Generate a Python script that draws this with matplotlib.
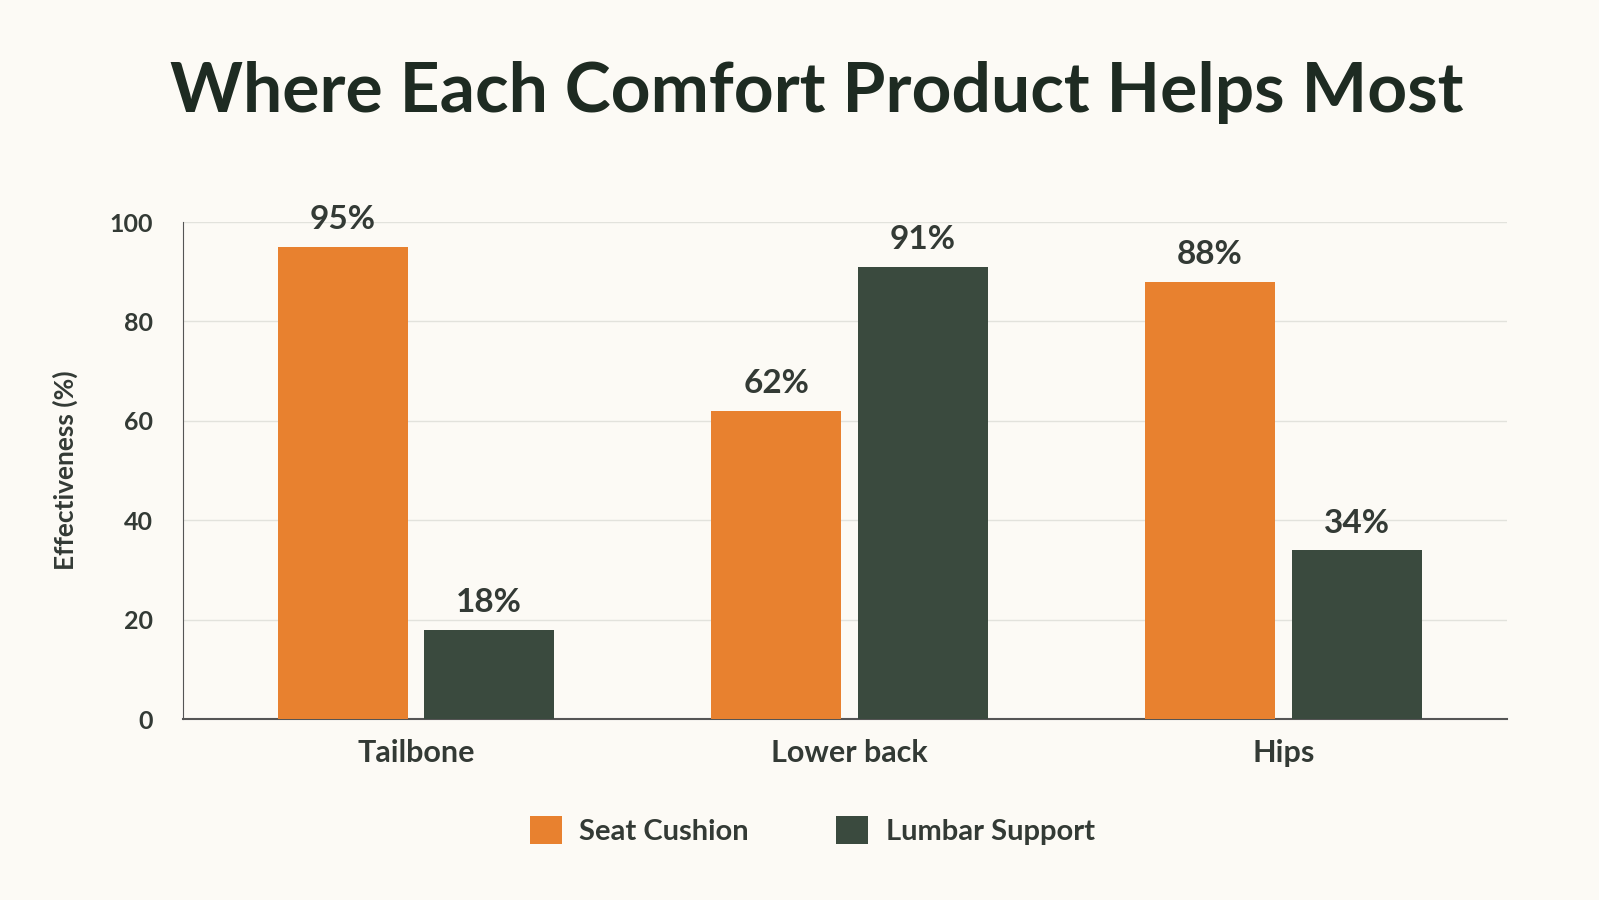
import matplotlib.pyplot as plt
import numpy as np

plt.rcParams['font.family'] = ['Lato', 'DejaVu Sans']

categories = ['Tailbone', 'Lower back', 'Hips']
seat_cushion = [95, 62, 88]
lumbar_support = [18, 91, 34]
series_names = ['Seat Cushion', 'Lumbar Support']

bg = '#FCFAF5'
orange = '#E8812F'
dark = '#3A4A3E'
text_col = '#333A35'

fig = plt.figure(figsize=(15.99, 9), dpi=100, facecolor=bg)
ax = fig.add_axes([0.1145, 0.201, 0.828, 0.5523], facecolor=bg)

x = np.arange(len(categories))
w = 0.3
off = 0.169
b1 = ax.bar(x - off, seat_cushion, w, color=orange, label=series_names[0], zorder=3)
b2 = ax.bar(x + off, lumbar_support, w, color=dark, label=series_names[1], zorder=3)

for bars, vals in ((b1, seat_cushion), (b2, lumbar_support)):
    for r, v in zip(bars, vals):
        ax.text(r.get_x() + r.get_width() / 2, v + 2.5, f'{v}%', ha='center', va='bottom',
                fontsize=24, fontweight='bold', color=text_col)

ax.set_xlim(-0.537, 2.516)
ax.set_ylim(0, 100)
ax.set_yticks(range(0, 101, 20))
ax.set_xticks(x)
ax.set_xticklabels(categories, fontsize=22, fontweight='bold', color=text_col)
ax.tick_params(axis='y', labelsize=18, colors=text_col, length=0, pad=22)
ax.tick_params(axis='x', length=0, pad=14)
for t in ax.get_yticklabels():
    t.set_fontweight('bold')
ax.grid(axis='y', color='#E2E2DC', linewidth=1, zorder=0)
for s in ['top', 'right']:
    ax.spines[s].set_visible(False)
ax.spines['left'].set_color('#555')
ax.spines['bottom'].set_color('#555')
ax.spines['bottom'].set_linewidth(1.5)
ax.set_ylabel('Effectiveness (%)', fontsize=19, fontweight='bold', color=text_col, labelpad=22)

fig.text(0.511, 0.897, 'Where Each Comfort Product Helps Most', ha='center', va='center',
         fontsize=50, fontweight='bold', color='#1E2B22')

fig.legend(handles=[b1, b2], loc='center', bbox_to_anchor=(0.508, 0.077), ncol=2, frameon=False,
           prop={'size': 21, 'weight': 'bold'}, handlelength=1.1, handleheight=1.1,
           columnspacing=3, handletextpad=0.6, labelcolor=text_col)

fig.savefig('out.png', dpi=100, facecolor=bg)
